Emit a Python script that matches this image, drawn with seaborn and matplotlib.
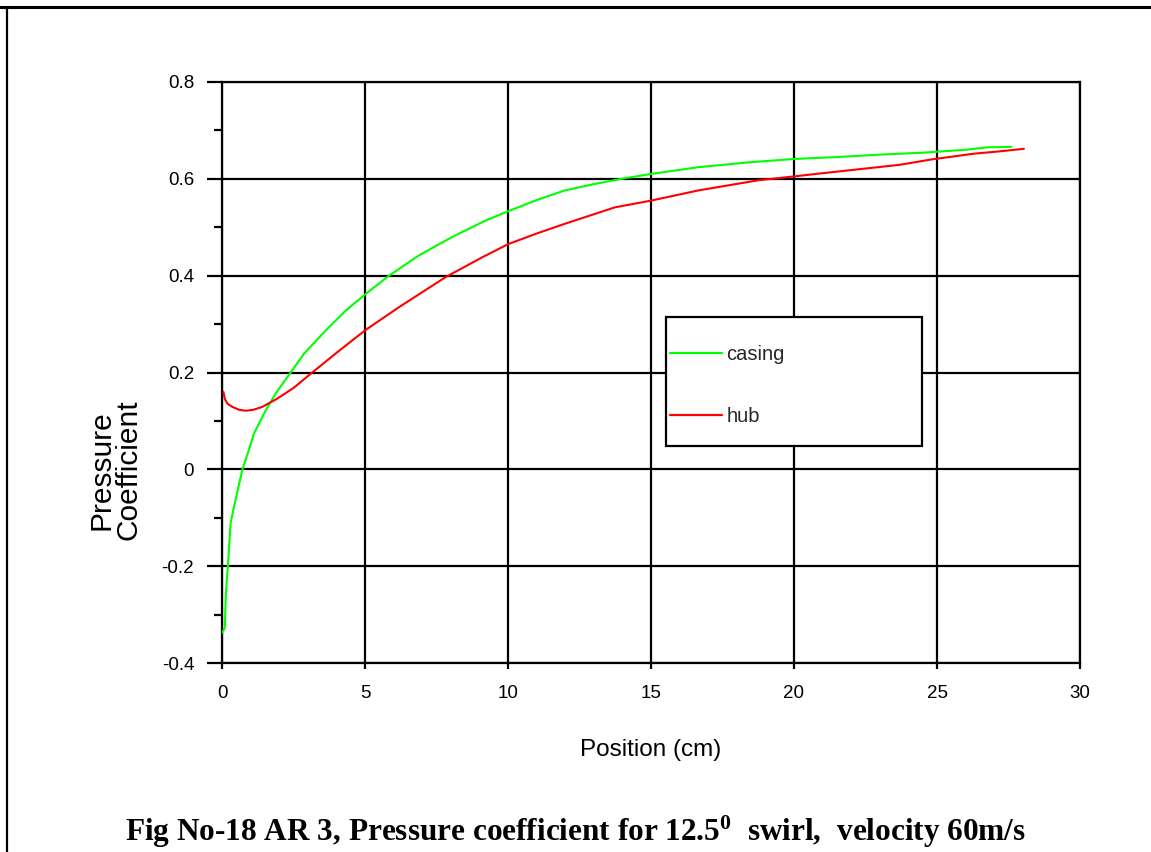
import matplotlib
matplotlib.use("Agg")
import matplotlib.pyplot as plt
from matplotlib.lines import Line2D
from matplotlib.patches import Rectangle
from matplotlib.ticker import MultipleLocator
import seaborn as sns
import pandas as pd

# ---- data ----
casing_x = [0.01, 0.07, 0.10, 0.13, 0.22, 0.30, 0.42, 0.71, 0.94, 1.12, 1.53, 1.88,
            2.40, 2.87, 3.63, 4.33, 5.00, 5.84, 6.89, 8.05, 9.22, 10.0, 11.0, 11.98,
            13.0, 13.96, 15.0, 16.65, 18.4, 20.0, 21.5, 23.0, 24.5, 26.0, 26.75, 27.6]
casing_y = [-0.337, -0.331, -0.325, -0.263, -0.187, -0.111, -0.077, -0.001, 0.040, 0.074,
            0.122, 0.157, 0.200, 0.239, 0.287, 0.328, 0.361, 0.400, 0.442, 0.480, 0.514,
            0.533, 0.556, 0.576, 0.589, 0.600, 0.610, 0.624, 0.634, 0.641, 0.645, 0.650,
            0.654, 0.660, 0.665, 0.666]

hub_x = [0.05, 0.10, 0.20, 0.36, 0.60, 0.83, 1.10, 1.41, 1.93, 2.50, 3.03, 3.97, 5.00,
         6.19, 7.82, 9.10, 10.0, 11.0, 11.98, 13.73, 15.0, 16.65, 18.75, 20.0, 20.9,
         22.3, 23.7, 24.8, 26.3, 27.06, 28.04]
hub_y = [0.160, 0.145, 0.135, 0.129, 0.123, 0.121, 0.123, 0.129, 0.146, 0.168, 0.194,
         0.239, 0.287, 0.335, 0.397, 0.438, 0.465, 0.487, 0.507, 0.541, 0.555, 0.576,
         0.597, 0.605, 0.611, 0.620, 0.629, 0.640, 0.652, 0.656, 0.662]

series_names = ["casing", "hub"]
series_colors = ["#00ff00", "#ff0000"]

x_ticks = [0, 5, 10, 15, 20, 25, 30]
y_ticks = [-0.4, -0.2, 0, 0.2, 0.4, 0.6, 0.8]
y_tick_labels = ["-0.4", "-0.2", "0", "0.2", "0.4", "0.6", "0.8"]

x_label = "Position (cm)"
y_label = "Pressure\nCoefficient"
caption = "Fig No-18 AR 3, Pressure coefficient for 12.5$^{0}$  swirl,  velocity 60m/s"

# ---- style ----
sns.set_theme(style="white")
plt.rcParams["font.family"] = ["Liberation Sans", "DejaVu Sans"]
plt.rcParams["mathtext.fontset"] = "custom"
plt.rcParams["mathtext.rm"] = "Liberation Serif:bold"
plt.rcParams["mathtext.it"] = "Liberation Serif:bold"
plt.rcParams["mathtext.bf"] = "Liberation Serif:bold"

fig = plt.figure(figsize=(11.51, 8.52), dpi=100)
ax = fig.add_axes([222 / 1151, 1 - 663 / 852, 858 / 1151, 581 / 852])

df = pd.concat([
    pd.DataFrame({"x": casing_x, "y": casing_y, "series": series_names[0]}),
    pd.DataFrame({"x": hub_x, "y": hub_y, "series": series_names[1]}),
])
sns.lineplot(data=df, x="x", y="y", hue="series", palette=dict(zip(series_names, series_colors)),
             estimator=None, sort=False, linewidth=1.5, ax=ax, legend=False, zorder=4)

ax.set_xlim(0, 30)
ax.set_ylim(-0.4, 0.8)
ax.set_xticks(x_ticks)
ax.set_xticklabels([str(t) for t in x_ticks])
ax.set_yticks(y_ticks)
ax.set_yticklabels(y_tick_labels)
ax.yaxis.set_minor_locator(MultipleLocator(0.1))

ax.grid(True, which="major", color="black", linewidth=1.6)
ax.set_axisbelow(True)
for s in ax.spines.values():
    s.set_color("black")
    s.set_linewidth(1.6)

ax.tick_params(axis="y", which="major", direction="out", length=11, width=1.6,
               color="black", labelsize=13.5, pad=9, labelcolor="black", left=True)
ax.tick_params(axis="y", which="minor", direction="out", length=5.5, width=1.6,
               color="black", left=True)
ax.tick_params(axis="x", which="major", direction="out", length=4.5, width=1.6,
               color="black", labelsize=13.5, pad=11, labelcolor="black", bottom=True)

ax.set_xlabel(x_label, fontsize=17.5, color="black", labelpad=27)
ax.set_ylabel(y_label, fontsize=21.5, color="black", linespacing=0.95)
ax.yaxis.set_label_coords(-0.093, 0.332)

# legend box (white, covers grid)
box = Rectangle((0.5175, 0.3735), 0.2984, 0.222, transform=ax.transAxes,
                facecolor="white", edgecolor="black", linewidth=1.6, zorder=3)
ax.add_patch(box)
handles = [Line2D([], [], color=c, linewidth=1.6) for c in series_colors]
leg = ax.legend(handles, series_names, loc="upper left", bbox_to_anchor=(0.5221, 0.548),
                frameon=False, handlelength=2.6, handletextpad=0.2, labelspacing=2.15,
                borderpad=0, borderaxespad=0, fontsize=14.5)
leg.set_zorder(5)

# caption
fig.text(0.5, 11 / 852, caption, ha="center", va="baseline", fontsize=22.5,
         fontweight="bold", family=["Liberation Serif", "DejaVu Serif"], color="black")

# page frame lines
fig.add_artist(Line2D([0, 1], [1 - 7 / 852, 1 - 7 / 852], transform=fig.transFigure,
                      color="black", linewidth=2.2))
fig.add_artist(Line2D([6.5 / 1151, 6.5 / 1151], [0, 1 - 7 / 852], transform=fig.transFigure,
                      color="black", linewidth=1.6))

fig.savefig("out.png", dpi=100)
